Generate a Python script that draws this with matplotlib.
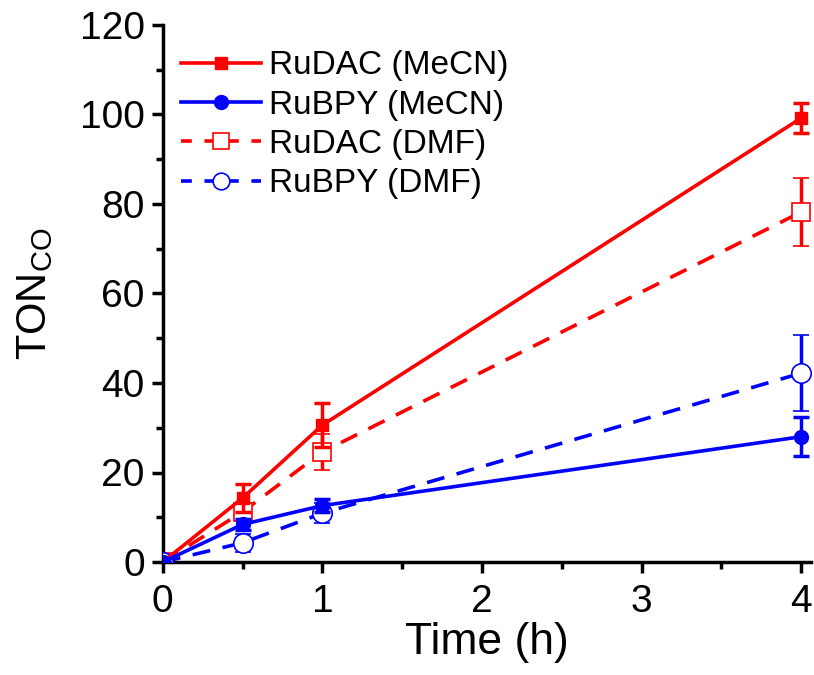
import numpy as np
import matplotlib.pyplot as plt
from matplotlib.lines import Line2D
from matplotlib.ticker import MultipleLocator

plt.rcParams['font.family'] = ['Liberation Sans', 'DejaVu Sans']

time = [0, 0.5, 1, 4]

rudac_mecn = [0, 14.3, 30.6, 99.2]
rudac_mecn_err = [0, 3.2, 5.0, 3.3]
rubpy_mecn = [0, 8.4, 12.6, 28.0]
rubpy_mecn_err = [0, 1.2, 1.5, 4.3]
rudac_dmf = [0, 11.2, 24.6, 78.2]
rudac_dmf_err = [0, 2.0, 4.0, 7.5]
rubpy_dmf = [0, 4.3, 10.9, 42.2]
rubpy_dmf_err = [0, 2.0, 2.2, 8.5]

labels = ["RuDAC (MeCN)", "RuBPY (MeCN)", "RuDAC (DMF)", "RuBPY (DMF)"]


def main():
	fig = plt.figure(figsize=(8.14, 6.75), dpi=100)
	ax = fig.add_axes([0.2, 0.1674, 0.796, 0.7956])
	red = '#ff0000'
	blue = '#0000ff'
	dash = (0, (5, 3.5))
	common = dict(lw=2.6, capsize=5.5, capthick=2.5, elinewidth=2.5)

	ax.errorbar(time, rudac_mecn, yerr=rudac_mecn_err, color=red, marker='s', ms=9,
		zorder=4, **common)
	ax.errorbar(time, rubpy_mecn, yerr=rubpy_mecn_err, color=blue, marker='o', ms=10,
		zorder=4, **common)
	ax.errorbar(time, rudac_dmf, yerr=rudac_dmf_err, color=red, marker='s', ms=13, mfc='white',
		mew=1.2, ls=dash, zorder=3, **common)
	ax.errorbar(time, rubpy_dmf, yerr=rubpy_dmf_err, color=blue, marker='o', ms=14, mfc='white',
		mew=1.2, ls=dash, zorder=3, **common)

	handles = [
		Line2D([], [], color=red, lw=2.6, marker='s', ms=9),
		Line2D([], [], color=blue, lw=2.6, marker='o', ms=10),
		Line2D([], [], color=red, lw=2.6, ls=(0, (3, 3.5)), marker='s', ms=12, mfc='white', mew=1.2),
		Line2D([], [], color=blue, lw=2.6, ls=(0, (3, 3.5)), marker='o', ms=12, mfc='white', mew=1.2),
	]

	ax.set_xlim(0, 4.06)
	ax.set_ylim(0, 120)
	ax.xaxis.set_major_locator(MultipleLocator(1))
	ax.xaxis.set_minor_locator(MultipleLocator(0.5))
	ax.yaxis.set_major_locator(MultipleLocator(20))
	ax.yaxis.set_minor_locator(MultipleLocator(10))
	for s in ['top', 'right']:
		ax.spines[s].set_visible(False)
	for s in ['left', 'bottom']:
		ax.spines[s].set_linewidth(2.5)
	ax.tick_params(which='major', length=8, width=2.5, labelsize=28, direction='out', pad=5)
	ax.tick_params(axis='x', which='major', pad=8)
	ax.tick_params(which='minor', length=5, width=2.5, direction='out')

	ax.set_xlabel('Time (h)', fontsize=32, labelpad=1)
	ax.set_ylabel(r'TON$_{\mathregular{CO}}$', fontsize=30, labelpad=18)

	ax.legend(handles, labels, loc='upper left', bbox_to_anchor=(-0.008, 0.996), frameon=False,
		fontsize=24, handlelength=2.4, handletextpad=0.25, labelspacing=0.25, borderaxespad=0.3)

	fig.savefig('out.png', dpi=100)


if __name__ == "__main__":
	main()
